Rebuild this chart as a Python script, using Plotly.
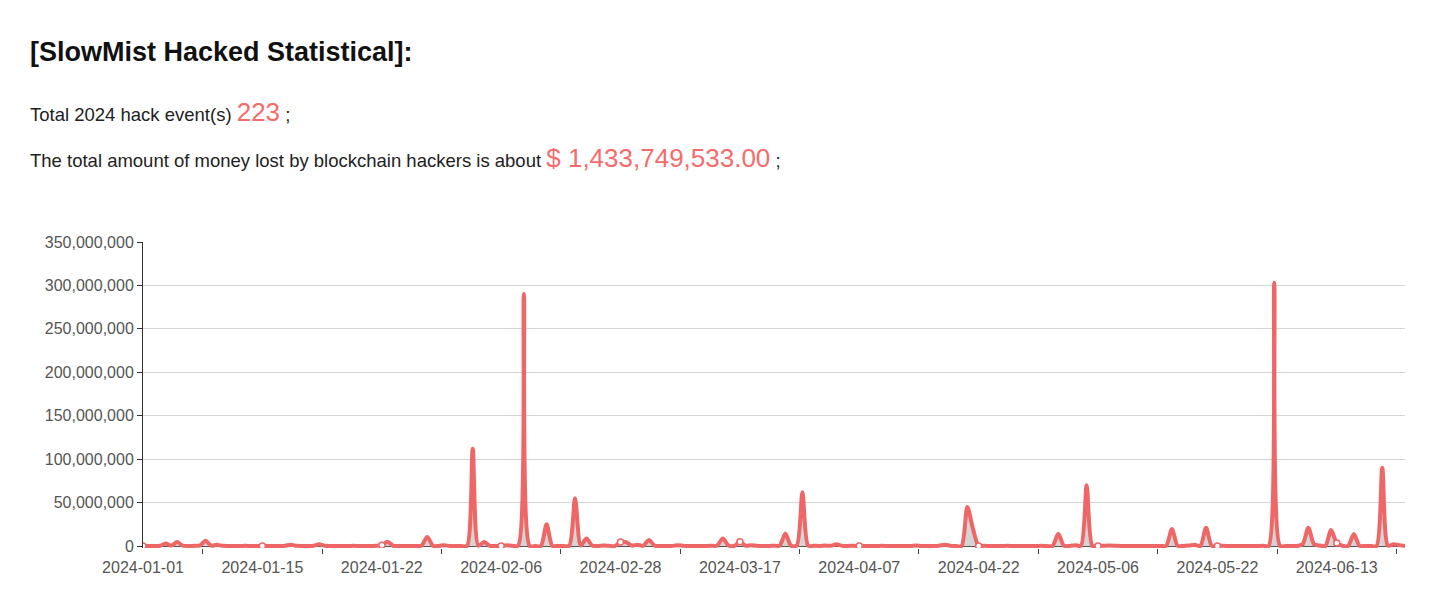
import plotly.graph_objects as go

# ---------------- data ----------------
tick_labels = ["2024-01-01", "2024-01-15", "2024-01-22", "2024-02-06", "2024-02-28",
               "2024-03-17", "2024-04-07", "2024-04-22", "2024-05-06", "2024-05-22",
               "2024-06-13"]
label_every = 21  # one date label every 21 hack events

# loss per hack event (million USD), in event order (223 events)
loss_musd = [
    # events 0-20
    0, 0, 0, 0.3, 3, 0.5, 4.5, 0.4, 0, 0.2, 0.5, 6, 0.3, 1.5, 0.2, 0, 0, 0, 0.3, 0, 0,
    # events 21-41
    0, 0, 0, 0, 0.3, 1.5, 0.2, 0, 0, 0.3, 2, 0.2, 0, 0, 0, 0, 0.2, 0, 0, 0, 0.3,
    # events 42-62
    1, 5, 0.3, 0, 0, 0, 0, 0.5, 10.5, 0.3, 0, 1, 0, 0, 0, 0, 112, 0.3, 4.6, 0.3, 0,
    # events 63-83
    0, 1, 0.3, 0.5, 290, 0.3, 0, 0, 25, 0.3, 0, 0, 0.3, 55, 0.5, 8.6, 0.5, 0, 0.5, 0.3, 0,
    # events 84-104
    4.5, 4.5, 0.5, 1.5, 0.3, 7, 0.3, 0, 0, 0, 1, 0.3, 0, 0, 0, 0, 0.2, 0.5, 8.6, 0.5, 0,
    # events 105-125
    5, 0.3, 1, 0.3, 0, 0, 0.3, 0.5, 14.4, 0.3, 0.5, 62, 0.5, 0.3, 0, 0.5, 0.3, 2, 0.3, 0, 0.3,
    # events 126-146
    0, 0, 0, 0, 0.2, 0, 0, 0, 0, 0, 0.5, 0, 0, 0, 0.3, 1.5, 0.3, 0, 0, 45, 20,
    # events 147-167
    0, 0.3, 0, 0, 0, 0.2, 0, 0, 0, 0, 0, 0.3, 0, 0, 14, 0.3, 0, 1, 0.3, 70, 0.3,
    # events 168-188
    0, 0.3, 0.5, 0.3, 0, 0, 0, 0, 0, 0, 0, 0, 0.3, 19.5, 0.3, 0, 0.5, 1.5, 0, 21, 0.3,
    # events 189-209
    0, 0.3, 0, 0, 0, 0, 0, 0, 0.3, 0, 303, 0.3, 0, 0, 0, 2, 21, 2, 0.5, 0, 18.4,
    # events 210-222
    3.5, 0.3, 0, 13.8, 0.3, 0, 0, 0, 90, 0.3, 2, 1, 0,
]
total_events = "223"
total_loss = "$ 1,433,749,533.00"
y_tick_values = [0, 50e6, 100e6, 150e6, 200e6, 250e6, 300e6, 350e6]

# ---------------- derived ----------------
losses = [v * 1e6 for v in loss_musd]
event_idx = list(range(len(losses)))
label_idx = [i * label_every for i in range(len(tick_labels))]
tick_idx = [i * label_every + label_every / 2 for i in range(len(tick_labels))]
label_vals = [losses[i] for i in label_idx]

LINE = "#ee6666"
RED_TXT = "#f56c6c"
FONT = "Liberation Sans, Arial, Helvetica, sans-serif"

# page has an 8px body margin; figure sized to fit inside the 1440x612 window
BODY = 8
W, H = 1424, 596
# target plot area in page pixels: x 143..1405, y 242..548
L = 143 - BODY
T = 242 - BODY
R = W - (1405 - BODY)
B = H - (548 - BODY)
pw, ph = W - L - R, H - T - B


def px(xp):
    return (xp - BODY - L) / pw


def py(yp):
    return (H - B - (yp - BODY)) / ph


fig = go.Figure()
fig.add_trace(go.Scatter(
    x=event_idx, y=losses, mode="lines",
    line=dict(color=LINE, width=4, shape="spline", smoothing=0.75),
    fill="tozeroy", fillcolor="rgba(120,120,120,0.32)",
    hoverinfo="skip", showlegend=False,
))
fig.add_trace(go.Scatter(
    x=label_idx, y=label_vals, mode="markers", xaxis="x2",
    marker=dict(size=6, color="white", line=dict(color=LINE, width=1.5)),
    hoverinfo="skip", showlegend=False,
))

fig.update_layout(
    width=W, height=H,
    margin=dict(l=L, r=R, t=T, b=B),
    paper_bgcolor="white", plot_bgcolor="white",
    font=dict(family=FONT),
    xaxis=dict(
        range=[0, len(losses) - 1], tickvals=label_idx, ticktext=tick_labels,
        ticks="outside", ticklen=5, tickcolor="rgba(0,0,0,0)",
        showgrid=False, zeroline=False, showline=False,
        tickfont=dict(size=16, color="#555", family=FONT),
    ),
    xaxis2=dict(
        overlaying="x", anchor="y", side="bottom",
        range=[0, len(losses) - 1], tickvals=tick_idx, showticklabels=False,
        ticks="outside", ticklen=5, tickcolor="#444", tickwidth=1,
        showgrid=False, zeroline=False, showline=False,
    ),
    yaxis=dict(
        range=[-2.3e6, 350e6], tickvals=y_tick_values, tickformat=",d",
        showgrid=True, gridcolor="#d4d4d4", gridwidth=1,
        zeroline=True, zerolinecolor="#555", zerolinewidth=1,
        showline=True, linecolor="#333", linewidth=1,
        ticks="outside", ticklen=5, tickcolor="#333",
        tickfont=dict(size=16, color="#555", family=FONT),
    ),
    annotations=[
        dict(xref="paper", yref="paper", x=px(28), y=py(52), xanchor="left", yanchor="middle",
             text="[SlowMist Hacked Statistical]:", showarrow=False,
             font=dict(size=27, color="#111", family=FONT, weight=600)),
        dict(xref="paper", yref="paper", x=px(28), y=py(112), xanchor="left", yanchor="middle",
             text=("Total 2024 hack event(s) <span style='color:%s;font-size:26px'>%s</span> ;"
                   % (RED_TXT, total_events)),
             showarrow=False, font=dict(size=18.5, color="#222", family=FONT)),
        dict(xref="paper", yref="paper", x=px(28), y=py(158), xanchor="left", yanchor="middle",
             text=("The total amount of money lost by blockchain hackers is about "
                   "<span style='color:%s;font-size:26px'>%s</span> ;" % (RED_TXT, total_loss)),
             showarrow=False, font=dict(size=18.5, color="#222", family=FONT)),
    ],
)

fig.write_html("out.html")
